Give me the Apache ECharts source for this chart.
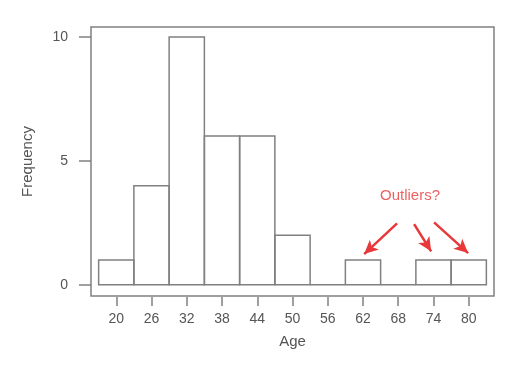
<!DOCTYPE html>
<html>
<head>
<meta charset="utf-8">
<script src="https://cdn.jsdelivr.net/npm/echarts@6/dist/echarts.min.js"></script>
<style>
  html, body { margin: 0; padding: 0; background: #fff; }
  #chart { width: 528px; height: 368px; }
</style>
</head>
<body>
<div id="chart"></div>
<script>
// histogram bins (centre of each 6-year bin) and counts
var binCenters = [20, 26, 32, 38, 44, 50, 56, 62, 68, 74, 80];
var binCounts = [1, 4, 10, 6, 6, 2, 0, 1, 0, 1, 1];
var binWidth = 6;
var yTicks = [0, 5, 10];

// annotation: arrows [x0, y0, x1, y1] in data units, and label
var arrowLines = [
    [67.8, 2.48, 62.2, 1.24],
    [70.7, 2.45, 73.6, 1.35],
    [74.1, 2.52, 79.9, 1.28]
];
var noteText = 'Outliers?';
var notePos = [70, 3.58];

var lineGrey = '#808080';
var textGrey = '#555';
var red = '#e8383a';
var font = 'Liberation Sans, Arial, sans-serif';

var chart = echarts.init(document.getElementById('chart'));

// 直方图数据
var histData = binCenters.map(function (c, i) {
    return [c - binWidth / 2, c + binWidth / 2, binCounts[i]];
});

var option = {
    animation: false,
    grid: {
        left: 91, top: 27, width: 403, height: 269,
        show: true, borderColor: lineGrey, borderWidth: 1.5, backgroundColor: '#fff'
    },
    xAxis: {
        type: 'value',
        min: 15.7, max: 84.3,
        offset: 1,
        name: 'Age',
        nameLocation: 'middle',
        nameGap: 37,
        nameTextStyle: { color: textGrey, fontSize: 15, fontFamily: font },
        splitLine: { show: false },
        axisLine: { show: false, onZero: false },
        axisTick: { show: true, length: 9, customValues: binCenters, lineStyle: { color: lineGrey, width: 1.5 } },
        axisLabel: { customValues: binCenters, margin: 15, color: textGrey, fontSize: 14, fontFamily: font }
    },
    yAxis: {
        type: 'value',
        min: -0.45, max: 10.4,
        name: 'Frequency',
        nameLocation: 'middle',
        nameGap: 56,
        nameTextStyle: { color: textGrey, fontSize: 15, fontFamily: font },
        splitLine: { show: false },
        axisLine: { show: false, onZero: false },
        axisTick: { show: true, length: 12, customValues: yTicks, lineStyle: { color: lineGrey, width: 1.5 } },
        axisLabel: { customValues: yTicks, margin: 23, color: textGrey, fontSize: 14, fontFamily: font }
    },
    series: [
        {
            type: 'custom',
            data: histData,
            encode: { x: [0, 1], y: 2 },
            renderItem: function (params, api) {
                var p0 = api.coord([api.value(0), api.value(2)]);
                var p1 = api.coord([api.value(1), 0]);
                return {
                    type: 'rect',
                    shape: { x: p0[0], y: p0[1], width: p1[0] - p0[0], height: p1[1] - p0[1] },
                    style: { fill: 'none', stroke: lineGrey, lineWidth: 1.5 }
                };
            },
            markLine: {
                silent: true,
                symbol: ['none', 'arrow'],
                symbolSize: [10, 14],
                label: { show: false },
                lineStyle: { color: red, width: 2.5, type: 'solid' },
                data: arrowLines.map(function (a) {
                    return [{ coord: [a[0], a[1]] }, { coord: [a[2], a[3]] }];
                })
            }
        },
        {
            type: 'scatter',
            symbolSize: 0,
            silent: true,
            data: [notePos],
            label: {
                show: true, position: 'inside', formatter: noteText,
                color: red, fontSize: 15, fontFamily: font
            }
        }
    ]
};

chart.setOption(option);
</script>
</body>
</html>
